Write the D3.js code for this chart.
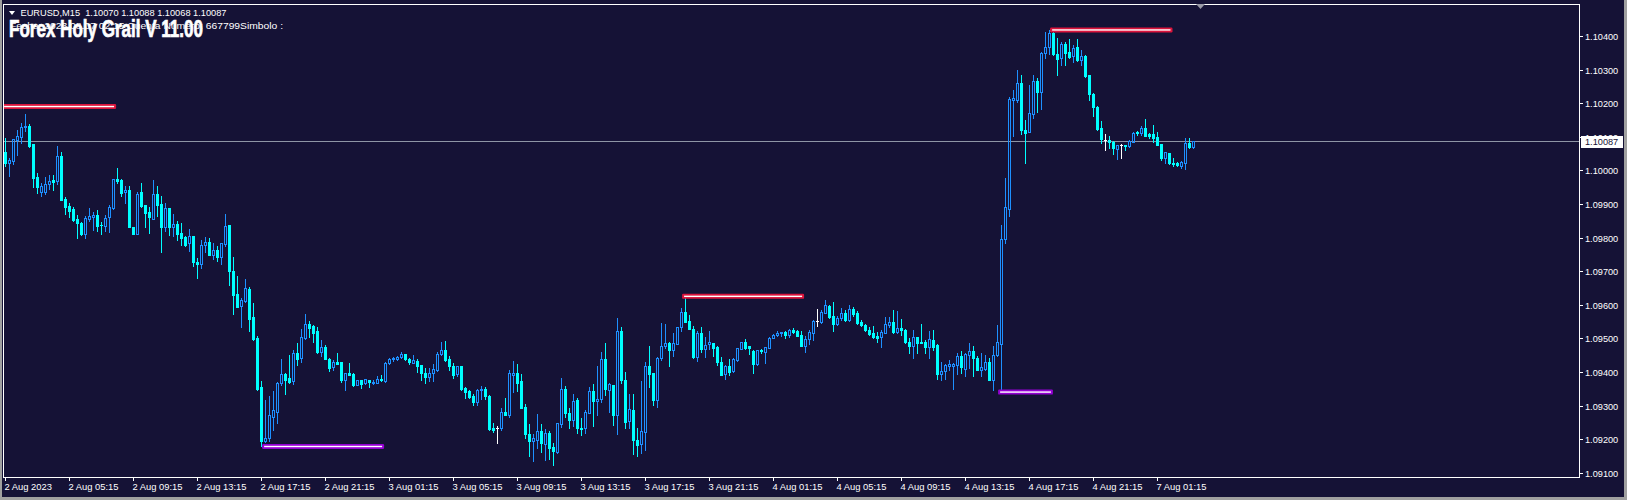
<!DOCTYPE html>
<html><head><meta charset="utf-8">
<script src="https://cdn.jsdelivr.net/npm/d3@7"></script>
<style>
html,body{margin:0;padding:0;background:#a0a0a0;overflow:hidden}
svg{display:block}
text{font-family:"Liberation Sans",Arial,sans-serif}
</style></head><body>
<svg id="chart" width="1627" height="500"></svg>
<script>
// ---------------- DATA ----------------
const symbolTitle = "EURUSD,M15";
const headerOHLC = [1.10070, 1.10088, 1.10068, 1.10087];
const indicatorTitle = "Forex Holy Grail V 11.00";
const infoText = "Fecha: 2023.08.07 02:15  Cuenta Numero: 667799Simbolo :";

const open = [
1.10054,1.10023,1.10029,1.10090,1.10100,1.10130,1.10132,1.10078,1.09979,1.09936,
1.09936,1.09959,1.09971,1.09969,1.10043,1.09916,1.09894,1.09884,1.09854,1.09842,
1.09812,1.09856,1.09862,1.09866,1.09837,1.09834,1.09860,1.09888,1.09973,1.09971,
1.09937,1.09941,1.09830,1.09812,1.09935,1.09896,1.09876,1.09856,1.09929,1.09899,
1.09832,1.09888,1.09830,1.09840,1.09814,1.09802,1.09783,1.09805,1.09727,1.09720,
1.09779,1.09787,1.09749,1.09763,1.09743,1.09781,1.09838,1.09701,1.09631,1.09595,
1.09611,1.09647,1.09563,1.09502,1.09354,1.09193,1.09202,1.09267,1.09282,1.09366,
1.09394,1.09381,1.09374,1.09456,1.09440,1.09502,1.09542,1.09537,1.09522,1.09458,
1.09474,1.09438,1.09414,1.09430,1.09430,1.09376,1.09398,1.09393,1.09362,1.09375,
1.09366,1.09375,1.09368,1.09368,1.09379,1.09373,1.09428,1.09438,1.09437,1.09443,
1.09453,1.09439,1.09428,1.09432,1.09421,1.09398,1.09386,1.09396,1.09406,1.09453,
1.09466,1.09438,1.09418,1.09394,1.09418,1.09351,1.09344,1.09327,1.09309,1.09346,
1.09350,1.09329,1.09234,1.09234,1.09232,1.09281,1.09273,1.09392,1.09396,1.09373,
1.09296,1.09216,1.09193,1.09198,1.09224,1.09185,1.09218,1.09176,1.09163,1.09245,
1.09349,1.09277,1.09257,1.09316,1.09232,1.09232,1.09279,1.09343,1.09313,1.09319,
1.09438,1.09345,1.09361,1.09273,1.09522,1.09376,1.09254,1.09287,1.09198,1.09184,
1.09220,1.09418,1.09396,1.09315,1.09440,1.09478,1.09486,1.09464,1.09484,1.09535,
1.09579,1.09552,1.09527,1.09444,1.09515,1.09467,1.09482,1.09485,1.09473,1.09430,
1.09393,1.09417,1.09403,1.09435,1.09468,1.09488,1.09476,1.09462,1.09423,1.09465,
1.09460,1.09472,1.09502,1.09509,1.09516,1.09519,1.09509,1.09524,1.09521,1.09510,
1.09478,1.09497,1.09516,1.09551,1.09549,1.09576,1.09596,1.09566,1.09544,1.09561,
1.09574,1.09554,1.09588,1.09574,1.09549,1.09541,1.09526,1.09515,1.09507,1.09503,
1.09517,1.09540,1.09548,1.09518,1.09530,1.09526,1.09490,1.09478,1.09503,1.09489,
1.09489,1.09473,1.09495,1.09479,1.09393,1.09402,1.09417,1.09418,1.09422,1.09448,
1.09410,1.09449,1.09462,1.09442,1.09406,1.09410,1.09429,1.09375,1.09449,1.09483,
1.09795,1.09884,1.10210,1.10210,1.10260,1.10121,1.10113,1.10168,1.10266,1.10232,
1.10349,1.10367,1.10408,1.10347,1.10335,1.10377,1.10351,1.10339,1.10367,1.10329,
1.10341,1.10283,1.10228,1.10188,1.10126,1.10091,1.10091,1.10083,1.10063,1.10075,
1.10075,1.10074,1.10085,1.10115,1.10110,1.10126,1.10107,1.10109,1.10100,1.10078,
1.10038,1.10051,1.10023,1.10023,1.10013,1.10023,1.10081,1.10070];

const high = [
1.10095,1.10036,1.10092,1.10120,1.10142,1.10168,1.10138,1.10078,1.09991,1.09961,
1.09979,1.09986,1.09986,1.10072,1.10054,1.09922,1.09902,1.09892,1.09867,1.09847,
1.09864,1.09888,1.09876,1.09882,1.09847,1.09866,1.09897,1.09975,1.10007,1.09973,
1.09953,1.09953,1.09832,1.09935,1.09961,1.09897,1.09892,1.09971,1.09953,1.09925,
1.09902,1.09888,1.09870,1.09849,1.09844,1.09806,1.09825,1.09805,1.09738,1.09793,
1.09801,1.09798,1.09785,1.09776,1.09785,1.09870,1.09838,1.09743,1.09686,1.09621,
1.09677,1.09654,1.09606,1.09508,1.09373,1.09315,1.09327,1.09342,1.09371,1.09439,
1.09398,1.09451,1.09464,1.09485,1.09527,1.09573,1.09552,1.09540,1.09535,1.09495,
1.09480,1.09440,1.09436,1.09457,1.09430,1.09398,1.09427,1.09396,1.09375,1.09376,
1.09380,1.09376,1.09376,1.09388,1.09391,1.09430,1.09440,1.09445,1.09446,1.09458,
1.09454,1.09442,1.09450,1.09438,1.09421,1.09411,1.09413,1.09424,1.09459,1.09488,
1.09492,1.09448,1.09426,1.09418,1.09418,1.09355,1.09347,1.09335,1.09349,1.09359,
1.09354,1.09332,1.09247,1.09240,1.09292,1.09321,1.09406,1.09433,1.09424,1.09394,
1.09304,1.09245,1.09216,1.09275,1.09245,1.09230,1.09223,1.09188,1.09249,1.09382,
1.09359,1.09293,1.09335,1.09322,1.09262,1.09287,1.09355,1.09364,1.09418,1.09459,
1.09486,1.09366,1.09362,1.09560,1.09533,1.09400,1.09335,1.09335,1.09234,1.09374,
1.09431,1.09478,1.09396,1.09444,1.09547,1.09543,1.09488,1.09517,1.09535,1.09589,
1.09619,1.09570,1.09537,1.09523,1.09534,1.09505,1.09522,1.09487,1.09477,1.09445,
1.09420,1.09437,1.09440,1.09472,1.09490,1.09498,1.09476,1.09465,1.09465,1.09469,
1.09473,1.09505,1.09513,1.09521,1.09520,1.09521,1.09528,1.09532,1.09524,1.09522,
1.09507,1.09524,1.09554,1.09588,1.09584,1.09614,1.09599,1.09607,1.09566,1.09589,
1.09584,1.09598,1.09594,1.09582,1.09556,1.09544,1.09534,1.09536,1.09520,1.09524,
1.09564,1.09564,1.09584,1.09582,1.09559,1.09528,1.09500,1.09524,1.09505,1.09542,
1.09495,1.09521,1.09524,1.09482,1.09430,1.09423,1.09435,1.09428,1.09455,1.09463,
1.09456,1.09486,1.09478,1.09448,1.09456,1.09451,1.09441,1.09478,1.09540,1.09838,
1.09977,1.10218,1.10238,1.10299,1.10284,1.10150,1.10255,1.10284,1.10274,1.10353,
1.10412,1.10418,1.10416,1.10393,1.10383,1.10381,1.10391,1.10374,1.10391,1.10359,
1.10344,1.10284,1.10230,1.10192,1.10147,1.10109,1.10101,1.10087,1.10076,1.10079,
1.10076,1.10089,1.10113,1.10118,1.10133,1.10154,1.10111,1.10136,1.10115,1.10079,
1.10056,1.10053,1.10036,1.10026,1.10029,1.10096,1.10097,1.10088];

const low = [
1.10013,1.09983,1.10019,1.10046,1.10082,1.10118,1.10070,1.09951,1.09933,1.09923,
1.09931,1.09944,1.09941,1.09959,1.09912,1.09870,1.09862,1.09849,1.09800,1.09808,
1.09800,1.09850,1.09822,1.09820,1.09810,1.09820,1.09817,1.09886,1.09963,1.09923,
1.09904,1.09830,1.09812,1.09810,1.09890,1.09830,1.09814,1.09856,1.09864,1.09758,
1.09820,1.09808,1.09805,1.09793,1.09778,1.09775,1.09761,1.09714,1.09681,1.09709,
1.09758,1.09748,1.09737,1.09730,1.09722,1.09775,1.09659,1.09573,1.09592,1.09535,
1.09609,1.09522,1.09495,1.09347,1.09180,1.09190,1.09193,1.09228,1.09249,1.09361,
1.09335,1.09368,1.09364,1.09421,1.09430,1.09497,1.09505,1.09490,1.09456,1.09448,
1.09438,1.09404,1.09406,1.09423,1.09371,1.09345,1.09391,1.09359,1.09361,1.09353,
1.09363,1.09356,1.09364,1.09368,1.09374,1.09371,1.09424,1.09434,1.09436,1.09442,
1.09436,1.09424,1.09428,1.09401,1.09376,1.09368,1.09374,1.09374,1.09404,1.09451,
1.09434,1.09406,1.09382,1.09388,1.09345,1.09323,1.09323,1.09302,1.09302,1.09319,
1.09319,1.09228,1.09222,1.09189,1.09228,1.09271,1.09267,1.09341,1.09344,1.09294,
1.09203,1.09150,1.09135,1.09173,1.09161,1.09138,1.09141,1.09122,1.09160,1.09235,
1.09267,1.09234,1.09240,1.09219,1.09213,1.09218,1.09277,1.09238,1.09272,1.09309,
1.09332,1.09282,1.09242,1.09216,1.09366,1.09232,1.09232,1.09156,1.09151,1.09158,
1.09168,1.09354,1.09302,1.09297,1.09436,1.09470,1.09418,1.09446,1.09482,1.09523,
1.09549,1.09527,1.09441,1.09433,1.09460,1.09445,1.09469,1.09447,1.09420,1.09390,
1.09380,1.09392,1.09400,1.09433,1.09467,1.09469,1.09453,1.09397,1.09421,1.09457,
1.09427,1.09470,1.09500,1.09507,1.09508,1.09502,1.09505,1.09515,1.09507,1.09477,
1.09460,1.09483,1.09495,1.09538,1.09546,1.09574,1.09562,1.09521,1.09539,1.09554,
1.09551,1.09551,1.09566,1.09544,1.09536,1.09522,1.09510,1.09502,1.09490,1.09475,
1.09515,1.09534,1.09517,1.09517,1.09509,1.09487,1.09457,1.09440,1.09457,1.09485,
1.09457,1.09442,1.09465,1.09380,1.09376,1.09378,1.09405,1.09348,1.09395,1.09398,
1.09388,1.09412,1.09388,1.09405,1.09388,1.09406,1.09375,1.09347,1.09446,1.09342,
1.09785,1.09863,1.10103,1.10205,1.10109,1.10023,1.10113,1.10157,1.10175,1.10182,
1.10334,1.10345,1.10343,1.10284,1.10314,1.10314,1.10334,1.10324,1.10326,1.10314,
1.10277,1.10210,1.10162,1.10121,1.10081,1.10061,1.10066,1.10049,1.10034,1.10037,
1.10061,1.10069,1.10083,1.10106,1.10106,1.10101,1.10096,1.10083,1.10075,1.10031,
1.10023,1.10019,1.10012,1.10012,1.10008,1.10005,1.10066,1.10068];

const close = [
1.10023,1.10031,1.10092,1.10102,1.10129,1.10132,1.10072,1.09977,1.09951,1.09953,
1.09958,1.09968,1.09966,1.10043,1.09912,1.09892,1.09880,1.09852,1.09842,1.09810,
1.09859,1.09864,1.09866,1.09834,1.09836,1.09858,1.09890,1.09973,1.09969,1.09933,
1.09941,1.09830,1.09812,1.09931,1.09894,1.09874,1.09860,1.09929,1.09898,1.09832,
1.09888,1.09830,1.09840,1.09812,1.09800,1.09778,1.09805,1.09726,1.09720,1.09777,
1.09786,1.09749,1.09763,1.09743,1.09783,1.09835,1.09699,1.09629,1.09594,1.09614,
1.09649,1.09558,1.09498,1.09349,1.09193,1.09204,1.09271,1.09287,1.09367,1.09394,
1.09376,1.09371,1.09456,1.09439,1.09503,1.09542,1.09532,1.09517,1.09458,1.09474,
1.09439,1.09413,1.09429,1.09424,1.09376,1.09396,1.09392,1.09361,1.09375,1.09364,
1.09378,1.09371,1.09370,1.09378,1.09375,1.09426,1.09438,1.09440,1.09444,1.09453,
1.09437,1.09431,1.09436,1.09419,1.09396,1.09386,1.09397,1.09409,1.09454,1.09464,
1.09436,1.09418,1.09392,1.09418,1.09350,1.09339,1.09325,1.09309,1.09347,1.09350,
1.09327,1.09231,1.09228,1.09234,1.09281,1.09273,1.09396,1.09397,1.09366,1.09294,
1.09214,1.09193,1.09202,1.09224,1.09188,1.09218,1.09175,1.09166,1.09247,1.09349,
1.09279,1.09257,1.09313,1.09232,1.09229,1.09280,1.09343,1.09312,1.09319,1.09438,
1.09349,1.09364,1.09273,1.09522,1.09376,1.09252,1.09289,1.09198,1.09181,1.09224,
1.09418,1.09394,1.09315,1.09441,1.09478,1.09486,1.09464,1.09486,1.09533,1.09579,
1.09550,1.09529,1.09443,1.09515,1.09468,1.09479,1.09489,1.09472,1.09430,1.09392,
1.09417,1.09400,1.09437,1.09470,1.09488,1.09472,1.09471,1.09423,1.09465,1.09461,
1.09473,1.09501,1.09509,1.09517,1.09519,1.09511,1.09526,1.09518,1.09508,1.09478,
1.09498,1.09518,1.09551,1.09551,1.09578,1.09599,1.09564,1.09543,1.09562,1.09574,
1.09554,1.09588,1.09572,1.09546,1.09539,1.09526,1.09513,1.09505,1.09502,1.09518,
1.09542,1.09548,1.09520,1.09532,1.09524,1.09490,1.09478,1.09503,1.09487,1.09487,
1.09473,1.09497,1.09475,1.09393,1.09402,1.09420,1.09423,1.09423,1.09447,1.09414,
1.09454,1.09462,1.09440,1.09406,1.09415,1.09429,1.09377,1.09450,1.09489,1.09795,
1.09890,1.10213,1.10214,1.10260,1.10121,1.10111,1.10170,1.10266,1.10232,1.10349,
1.10367,1.10408,1.10345,1.10333,1.10377,1.10349,1.10337,1.10365,1.10329,1.10341,
1.10281,1.10226,1.10188,1.10124,1.10093,1.10091,1.10083,1.10066,1.10075,1.10075,
1.10073,1.10086,1.10111,1.10110,1.10126,1.10103,1.10103,1.10096,1.10076,1.10038,
1.10054,1.10023,1.10020,1.10015,1.10025,1.10081,1.10071,1.10087];

const timeLabelIndex = [0,16,32,48,64,80,96,112,128,144,160,176,192,208,224,240,256,272,288];
const timeLabels = ["2 Aug 2023","2 Aug 05:15","2 Aug 09:15","2 Aug 13:15","2 Aug 17:15","2 Aug 21:15",
  "3 Aug 01:15","3 Aug 05:15","3 Aug 09:15","3 Aug 13:15","3 Aug 17:15","3 Aug 21:15",
  "4 Aug 01:15","4 Aug 05:15","4 Aug 09:15","4 Aug 13:15","4 Aug 17:15","4 Aug 21:15","7 Aug 01:15"];
const priceTicks = [1.091,1.092,1.093,1.094,1.095,1.096,1.097,1.098,1.099,1.100,1.101,1.102,1.103,1.104];

// support / resistance segments (price, start bar, end bar, kind)
const levelPrice = [1.10190, 1.10418, 1.09625, 1.09178, 1.09340];
const levelStart = [-0.6, 261.4, 169.4, 64.4, 248.4];
const levelEnd   = [27.4, 291.5, 199.4, 94.4, 261.6];
const levelKind  = ["res","res","res","sup","sup"];

const bidPrice = 1.10087;

// ---------------- DRAW ----------------
const W = 1627, H = 500;
const BG = "#151236";
const BULL = "#1E90FF", BEAR = "#00FFFF", DOJI = "#FFFFFF";
const svg = d3.select("#chart");

svg.append("rect").attr("width", W).attr("height", H).attr("fill", "#a0a0a0");
svg.append("rect").attr("x", 2).attr("y", 0).attr("width", 1622).attr("height", 497).attr("fill", BG);

const x = d3.scaleLinear().domain([0, 297]).range([5.5, 5.5 + 297 * 4]);
const y = d3.scaleLinear().domain([1.091, 1.104]).range([472.7, 36.0]);

svg.append("clipPath").attr("id", "plotclip").append("rect")
  .attr("x", 4).attr("y", 5).attr("width", 1575).attr("height", 472);

const plot = svg.append("g").attr("clip-path", "url(#plotclip)");

// bid line
const by = Math.round(y(bidPrice)) + 0.5;
plot.append("line").attr("x1", 4).attr("x2", 1579).attr("y1", by).attr("y2", by)
  .attr("stroke", "#8e95a6").attr("stroke-width", 1);

// candles
const cg = plot.append("g").attr("shape-rendering", "crispEdges");
open.forEach((o, i) => {
  const c = close[i], h = high[i], l = low[i];
  const cx = x(i);
  const yTop = Math.round(y(Math.max(o, c)));
  const yBot = Math.round(y(Math.min(o, c)));
  const yH = Math.round(y(h)), yL = Math.round(y(l));
  const g = cg.append("g");
  if (o === c) {
    g.append("line").attr("x1", cx).attr("x2", cx).attr("y1", yH).attr("y2", yL + 1).attr("stroke", DOJI);
    g.append("rect").attr("x", cx - 1.5).attr("y", yTop).attr("width", 3).attr("height", 1).attr("fill", DOJI);
  } else if (c > o) {
    if (yTop > yH) g.append("line").attr("x1", cx).attr("x2", cx).attr("y1", yH).attr("y2", yTop).attr("stroke", BULL);
    if (yL > yBot) g.append("line").attr("x1", cx).attr("x2", cx).attr("y1", yBot + 1).attr("y2", yL + 1).attr("stroke", BULL);
    if (yBot - yTop >= 1) {
      g.append("rect").attr("x", cx - 1).attr("y", yTop + 0.5).attr("width", 2).attr("height", yBot - yTop)
        .attr("fill", "none").attr("stroke", BULL).attr("stroke-width", 1);
    } else {
      g.append("rect").attr("x", cx - 1.5).attr("y", yTop).attr("width", 3).attr("height", 1).attr("fill", BULL);
    }
  } else {
    g.append("line").attr("x1", cx).attr("x2", cx).attr("y1", yH).attr("y2", yL + 1).attr("stroke", BEAR);
    g.append("rect").attr("x", cx - 1.5).attr("y", yTop).attr("width", 3).attr("height", Math.max(1, yBot - yTop + 1)).attr("fill", BEAR);
  }
});

// level segments
const lg = plot.append("g");
levelPrice.forEach((p, k) => {
  const x1 = x(levelStart[k]), x2 = x(levelEnd[k]);
  const ly = y(p);
  const col = levelKind[k] === "res" ? "#DC143C" : "#9400D3";
  lg.append("rect").attr("x", x1 - 1).attr("y", ly - 2.5).attr("width", x2 - x1 + 2).attr("height", 5)
    .attr("rx", 1.2).attr("fill", col);
  lg.append("rect").attr("x", x1 + 1).attr("y", ly - 0.7).attr("width", x2 - x1 - 2).attr("height", 1.4)
    .attr("fill", "#ffffff");
});

// frame
svg.append("rect").attr("x", 3.5).attr("y", 4.5).attr("width", 1576).attr("height", 473)
  .attr("fill", "none").attr("stroke", "#ffffff").attr("stroke-width", 1).attr("shape-rendering", "crispEdges");

// price axis
const pa = svg.append("g");
priceTicks.forEach(v => {
  const ty = Math.round(y(v)) + 0.5;
  pa.append("line").attr("x1", 1580).attr("x2", 1583).attr("y1", ty).attr("y2", ty).attr("stroke", "#ffffff");
  pa.append("text").attr("x", 1585).attr("y", ty + 3.3).attr("fill", "#ffffff")
    .attr("font-size", "9.2px").text(v.toFixed(5));
});
// bid label
pa.append("rect").attr("x", 1581).attr("y", by - 5.5).attr("width", 42).attr("height", 12).attr("fill", "#ffffff");
pa.append("text").attr("x", 1585).attr("y", by + 3.8).attr("fill", "#151236")
  .attr("font-size", "9.2px").text(bidPrice.toFixed(5));

// time axis
const ta = svg.append("g");
timeLabelIndex.forEach((idx, k) => {
  const tx = Math.round(x(idx) - 0.5) + 0.5;
  ta.append("line").attr("x1", tx).attr("x2", tx).attr("y1", 478).attr("y2", 481).attr("stroke", "#ffffff");
  ta.append("text").attr("x", tx - 1).attr("y", 489.5).attr("fill", "#ffffff")
    .attr("font-size", "9.4px").text(timeLabels[k]);
});

// top shift marker
svg.append("polygon").attr("points", "1196,4 1205,4 1200.5,9").attr("fill", "#9a9aa6");

// header
svg.append("polygon").attr("points", "9,11 15,11 12,15").attr("fill", "#ffffff");
svg.append("text").attr("x", 20.5).attr("y", 16.2).attr("fill", "#ffffff").attr("font-size", "9.3px")
  .style("white-space", "pre").attr("textLength", 206).attr("lengthAdjust", "spacingAndGlyphs")
  .text(symbolTitle + "  " + headerOHLC.map(v => v.toFixed(5)).join(" "));
svg.append("text").attr("x", 10).attr("y", 29.3).attr("fill", "#ffffff").attr("font-size", "9.3px")
  .attr("textLength", 273).attr("lengthAdjust", "spacingAndGlyphs").text(infoText);
svg.append("text").attr("x", 9).attr("y", 37).attr("fill", "#ffffff")
  .attr("stroke", "#ffffff").attr("stroke-width", 0.7)
  .attr("font-family", "'Liberation Sans Narrow','Liberation Sans',Arial,sans-serif")
  .attr("font-weight", "bold").attr("font-size", "23.5px")
  .attr("textLength", 194).attr("lengthAdjust", "spacingAndGlyphs").text(indicatorTitle);
</script>
</body></html>
